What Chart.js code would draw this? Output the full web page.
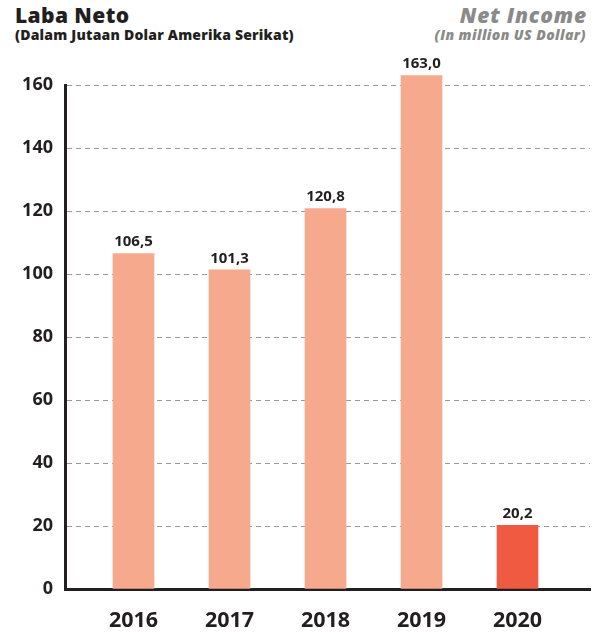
<!DOCTYPE html>
<html lang="id">
<head>
    <meta charset="utf-8" />
    <title>Laba Neto</title>
    <script src="https://cdn.jsdelivr.net/npm/chart.js@4.4.0/dist/chart.umd.min.js"></script>
    <style>
        html, body { margin: 0; padding: 0; background: #fff; }
        #wrap { position: relative; width: 594px; height: 632px; }
        #chart { position: absolute; left: 0; top: 0; }
        .head { position: absolute; font-family: "Open Sans", sans-serif; font-weight: 800; white-space: nowrap; line-height: 1; }
        #titleL { left: 15px; top: 5px; font-size: 21px; letter-spacing: 0.4px; color: #231f20; }
        #subL { left: 15px; top: 28px; font-size: 14px; letter-spacing: 0.2px; color: #231f20; }
        #titleR { right: 7px; top: 5px; font-size: 21px; letter-spacing: 0.8px; color: #8a8a8a; font-style: italic; }
        #subR { right: 8px; top: 28px; font-size: 14px; letter-spacing: 0.4px; color: #8a8a8a; font-style: italic; }
    </style>
</head>
<body>
<div id="wrap">
    <div class="head" id="titleL">Laba Neto</div>
    <div class="head" id="subL">(Dalam Jutaan Dolar Amerika Serikat)</div>
    <div class="head" id="titleR">Net Income</div>
    <div class="head" id="subR">(In million US Dollar)</div>
    <canvas id="chart" width="594" height="632"></canvas>
</div>
<script>
    const years = ['2016', '2017', '2018', '2019', '2020'];
    const netIncome = [106.5, 101.3, 120.8, 163.0, 20.2];
    const valueLabels = ['106,5', '101,3', '120,8', '163,0', '20,2'];
    const barColors = ['#f7a98d', '#f7a98d', '#f7a98d', '#f7a98d', '#ef5a40'];

    const dark = '#231f20';
    const font = '"Open Sans", sans-serif';

    // value text above every bar
    const barValues = {
        id: 'barValues',
        afterDatasetsDraw(chart) {
            const ctx = chart.ctx;
            const meta = chart.getDatasetMeta(0);
            ctx.save();
            ctx.font = 'bold 15px ' + font;
            ctx.fillStyle = dark;
            ctx.textAlign = 'center';
            ctx.textBaseline = 'bottom';
            meta.data.forEach((bar, i) => {
                ctx.fillText(valueLabels[i], bar.x, bar.y - 4);
            });
            ctx.restore();
        }
    };

    const ctx = document.getElementById('chart').getContext('2d');
    new Chart(ctx, {
        type: 'bar',
        data: {
            datasets: [{
                data: years.map((y, i) => ({ x: i, y: netIncome[i] })),
                backgroundColor: barColors,
                barThickness: 41,
                clip: false
            }]
        },
        options: {
            responsive: false,
            animation: false,
            layout: { padding: { top: 85, right: 4, left: 0, bottom: 0 } },
            plugins: {
                legend: { display: false },
                tooltip: { enabled: false }
            },
            scales: {
                x: {
                    type: 'linear',
                    offset: false,
                    min: -0.7135,
                    max: 4.755,
                    grid: { display: false, offset: false },
                    border: { display: true, color: dark, width: 3 },
                    afterFit: (s) => { s.height = 43; },
                    ticks: {
                        stepSize: 1,
                        includeBounds: false,
                        padding: 11,
                        color: dark,
                        font: { family: 'Open Sans', size: 21.5, weight: 'bold' },
                        callback: (v) => (Number.isInteger(v) && years[v]) ? years[v] : ''
                    }
                },
                y: {
                    min: 0,
                    max: 160,
                    grid: { color: '#9a9a9a', lineWidth: 1, drawTicks: false },
                    border: { display: true, color: dark, width: 3, dash: [5, 4] },
                    afterFit: (s) => { s.width = 65; },
                    ticks: {
                        stepSize: 20,
                        padding: 12,
                        color: dark,
                        font: { family: 'Open Sans', size: 18, weight: 'bold' }
                    }
                }
            }
        },
        plugins: [barValues]
    });
</script>
</body>
</html>
